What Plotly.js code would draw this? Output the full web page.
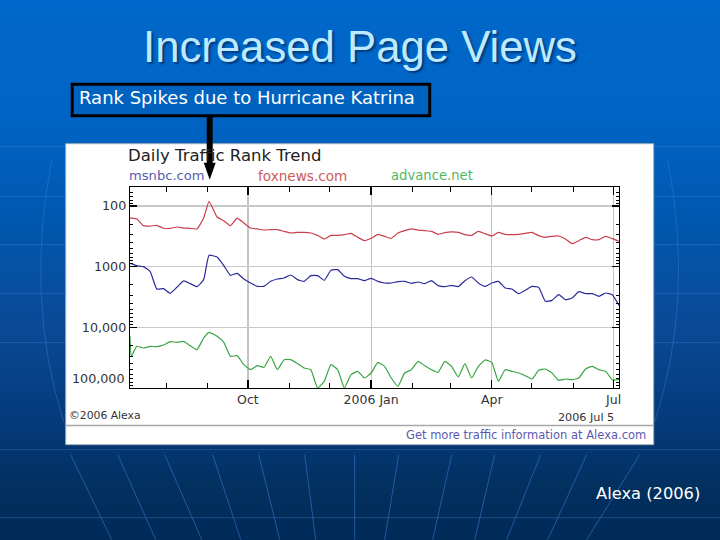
<!DOCTYPE html>
<html>
<head>
<meta charset="utf-8">
<script src="https://cdn.plot.ly/plotly-3.0.1.min.js"></script>
<style>
html,body{margin:0;padding:0;width:720px;height:540px;overflow:hidden;
background:linear-gradient(180deg,#0068ca 0%,#0064c4 22%,#0058b0 40%,#0a4a96 60%,#053a7c 78%,#02305f 90%,#002a58 100%);}
#chart{width:720px;height:540px;}
</style>
</head>
<body>
<div id="chart"></div>
<script>
// Sampling dates (about 5-day steps read across the plot)
const dates = [
"2005-07-05","2005-07-06","2005-07-10","2005-07-15","2005-07-20","2005-07-25","2005-07-30","2005-08-04","2005-08-09","2005-08-14","2005-08-19",
"2005-08-24","2005-08-29","2005-09-02","2005-09-08","2005-09-13","2005-09-18","2005-09-23","2005-09-28","2005-10-03","2005-10-08",
"2005-10-13","2005-10-18","2005-10-23","2005-10-28","2005-11-02","2005-11-07","2005-11-12","2005-11-17","2005-11-22","2005-11-27",
"2005-12-02","2005-12-07","2005-12-12","2005-12-17","2005-12-22","2005-12-27","2006-01-01","2006-01-06","2006-01-11","2006-01-16",
"2006-01-21","2006-01-26","2006-01-31","2006-02-05","2006-02-10","2006-02-15","2006-02-20","2006-02-25","2006-03-02","2006-03-07",
"2006-03-12","2006-03-17","2006-03-22","2006-03-27","2006-04-01","2006-04-06","2006-04-11","2006-04-16","2006-04-21","2006-04-26",
"2006-05-01","2006-05-06","2006-05-11","2006-05-16","2006-05-21","2006-05-26","2006-05-31","2006-06-05","2006-06-10","2006-06-15",
"2006-06-20","2006-06-25","2006-06-30","2006-07-05"];

const foxnews = [
158,158,162,211,214,208,233,233,222,231,233,
239,158,84,152,175,211,158,191,231,239,
249,245,245,262,279,272,272,279,305,350,
305,305,297,282,328,373,341,293,316,341,
279,255,239,249,255,262,293,275,268,272,
297,305,262,286,312,272,293,297,293,282,
272,308,328,316,312,350,418,373,328,359,
359,316,345,382];

const msnbc = [
892,892,963,1000,1194,2335,2305,2750,2190,1720,1906,
2136,1637,650,693,963,1389,1288,1597,1858,2109,
2109,1746,1597,1537,1372,1637,1746,1406,1406,1679,
1149,1120,1443,1578,1578,1702,1556,1746,1858,1858,
1766,1746,1884,1791,1906,1702,2056,2136,2032,2136,
1702,1480,1858,2109,1858,1746,2249,2335,2786,2455,
2109,2190,3724,3589,2897,3499,3281,2582,2786,2786,
3083,2716,2897,4340];

const advance = [
14070,30000,20560,21930,20560,20840,19550,17220,17660,17020,20050,
23330,14990,12080,14070,17660,30060,29310,41210,49890,42850,
45600,30060,49890,34120,34120,39720,46770,49890,100000,77620,
41210,49890,100000,60260,53090,68390,56620,37760,43950,68390,
93970,56620,49890,36310,42850,49890,55210,36310,43950,65920,
39720,68390,43950,34510,37760,77620,49890,53090,56620,62660,
71120,51170,48640,56620,74820,71120,72950,68390,48640,43950,
49890,53090,72950,72950];

const xMajorVals = ["2005-10-01","2006-01-01","2006-04-01","2006-07-01"];
const xMajorText = ["Oct","2006 Jan","Apr","Jul"];
const xMinorVals = ["2005-08-01","2005-09-01","2005-11-01","2005-12-01","2006-02-01","2006-03-01","2006-05-01","2006-06-01"];
const yMajorVals = [100,1000,10000];
const yMajorText = ["100","1000","10,000"];
const yMinorVals = [50,60,70,80,90,200,300,400,500,600,700,800,900,2000,3000,4000,5000,6000,7000,8000,9000,20000,30000,40000,50000,60000,70000,80000,90000];

const L=130.3,R=619.3,T=187.3,B=388.3;
const px=x=>(x-L)/(R-L), py=y=>(B-y)/(B-T);

function rect(x0,y0,x1,y1,o){return Object.assign({type:'rect',xref:'paper',yref:'paper',x0:px(x0),x1:px(x1),y0:py(y0),y1:py(y1),layer:'below'},o);}
function seg(x0,y0,x1,y1,color,width,layer){return {type:'line',xref:'paper',yref:'paper',x0:px(x0),x1:px(x1),y0:py(y0),y1:py(y1),layer:layer||'below',line:{color:color,width:width}};}
function txt(text,x,y,size,color,anchor,family,shadow){const f={size:size,color:color,family:family||'DejaVu Sans, sans-serif'};if(shadow)f.shadow=shadow;return {text:text,xref:'paper',yref:'paper',x:px(x),y:py(y),xanchor:anchor||'left',yanchor:'middle',showarrow:false,font:f};}

const faint='rgba(60,125,215,0.55)';
const shapes=[];
[147,197,245,294,343,450,518].forEach(y=>shapes.push(seg(0,y,720,y,'rgba(90,150,230,0.30)',1)));
[[71,455,112,540],[118,455,156,540],[165,455,202,540],[213,455,241,540],[259,455,280,540],[305,455,316,540],[355,455,355,540],
 [399,455,385,540],[452,455,433,540],[495,455,475,540],[541,455,507,540],[587,455,548,540],[640,455,587,540]]
 .forEach(s=>shapes.push(seg(s[0],s[1],s[2],s[3],faint,1)));
// side arcs of the slide's globe pattern
[[52,160,25,300,64,422],[668,160,695,300,655,422]].forEach(a=>shapes.push({type:'path',xref:'paper',yref:'paper',layer:'below',
  line:{color:'rgba(60,125,215,0.45)',width:1},
  path:`M ${px(a[0])} ${py(a[1])} Q ${px(a[2])} ${py(a[3])} ${px(a[4])} ${py(a[5])}`}));

// white panel
shapes.push(rect(66,144,654,445,{fillcolor:'#ffffff',line:{color:'#9aa8b8',width:1}}));
shapes.push(seg(66,425.7,654,425.7,'#a8a8a8',1.5));
// callout box
shapes.push(rect(72.5,84.5,430,116,{fillcolor:'#0062bf',line:{color:'#000000',width:3},layer:'above'}));
// arrow
shapes.push(seg(210,116,210,164,'#000000',6,'above'));
shapes.push({type:'path',xref:'paper',yref:'paper',layer:'above',fillcolor:'#000000',line:{color:'#000000',width:0},
  path:`M ${px(204)} ${py(163)} L ${px(216)} ${py(163)} L ${px(210)} ${py(180)} Z`});

const annotations=[
 txt('Increased Page Views',360.5,47,43.7,'#bdeaff','center','Liberation Sans, Arial, sans-serif','2px 2px 2px rgba(0,30,80,0.6)'),
 txt('Rank Spikes due to Hurricane Katrina',77.5,98,18,'#ffffff','left'),
 txt('Alexa (2006)',594,494,16.3,'#ffffff','left'),
 txt('Daily Traffic Rank Trend',126,156,16.5,'#222222','left'),
 txt('msnbc.com',127,176,13.1,'#5a5ab0','left'),
 txt('foxnews.com',256,176,13.6,'#cc5a5a','left'),
 txt('advance.net',389,176,13.2,'#4fb85f','left'),
 txt('100,000',126,378.5,12.7,'#333333','right'),
 txt('©2006 Alexa',67,416,10.8,'#333333','left'),
 txt('2006 Jul 5',556,418,11.2,'#333333','left'),
 txt('Get more traffic information at Alexa.com',404,435,11.5,'#5a5ab0','left')
];

const line=(y,color)=>({type:'scatter',mode:'lines',x:dates,y:y,line:{color:color,width:1.2,shape:'spline',smoothing:0.4},hoverinfo:'skip',showlegend:false});

Plotly.newPlot('chart',[line(foxnews,'#c8404a'),line(msnbc,'#2a2a9a'),line(advance,'#3aa544')],{
  width:720,height:540,
  paper_bgcolor:'rgba(0,0,0,0)',plot_bgcolor:'rgba(0,0,0,0)',
  margin:{l:L,r:720-R,t:T,b:540-B,pad:0},
  showlegend:false,
  shapes:shapes,annotations:annotations,
  xaxis:{type:'date',range:['2005-07-05','2006-07-05'],tickmode:'array',tickvals:xMajorVals,ticktext:xMajorText,
    ticks:'inside',ticklen:8,tickwidth:1.5,tickcolor:'#000000',mirror:'allticks',
    showline:true,linecolor:'#000000',linewidth:1.2,
    showgrid:true,gridcolor:'#c4c4c4',gridwidth:1.2,zeroline:false,
    tickfont:{family:'DejaVu Sans, sans-serif',size:12.5,color:'#333333'},
    minor:{tickmode:'array',tickvals:xMinorVals,ticks:'inside',ticklen:5,tickwidth:1,tickcolor:'#000000',showgrid:false}},
  yaxis:{type:'log',range:[5,1.687],tickmode:'array',tickvals:yMajorVals,ticktext:yMajorText,
    ticks:'inside',ticklen:7,tickwidth:1.5,tickcolor:'#000000',mirror:'allticks',
    showline:true,linecolor:'#000000',linewidth:1.2,
    showgrid:true,gridcolor:'#c8c8c8',gridwidth:1.2,zeroline:false,
    tickfont:{family:'DejaVu Sans, sans-serif',size:12.7,color:'#333333'},
    minor:{tickmode:'array',tickvals:yMinorVals,ticks:'inside',ticklen:3,tickwidth:1,tickcolor:'#000000',showgrid:false}}
},{displayModeBar:false,staticPlot:true});
</script>
</body>
</html>
